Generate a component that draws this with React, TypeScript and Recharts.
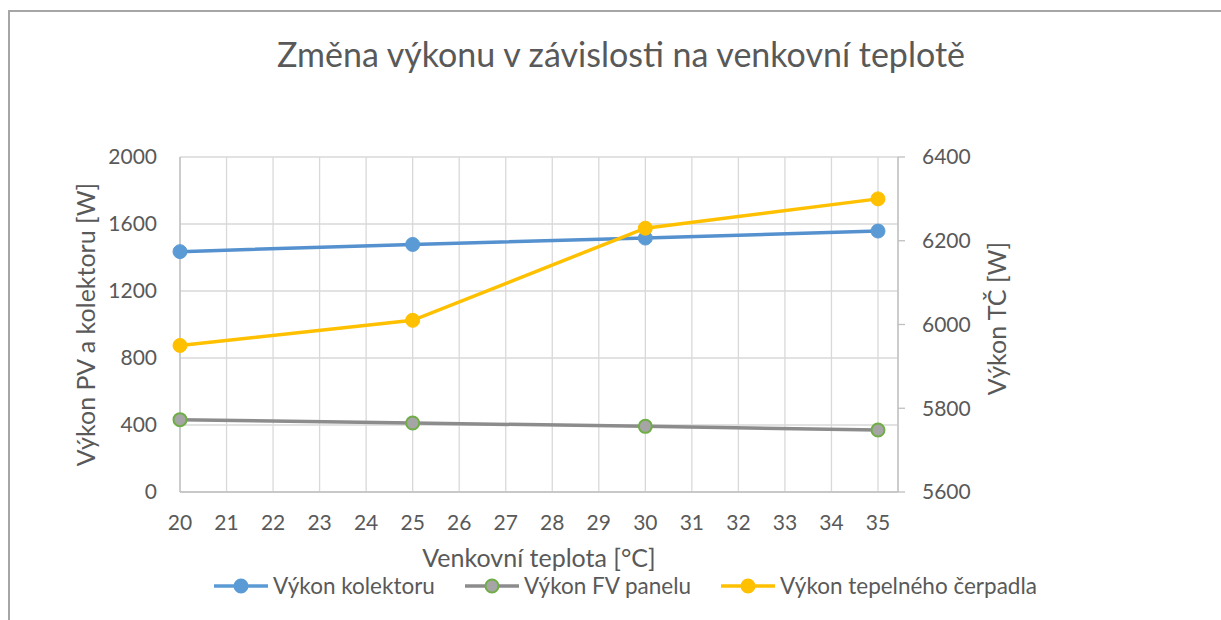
import React from 'react';
import { LineChart, Line, XAxis, YAxis, CartesianGrid, Legend } from 'recharts';

const temps = [20, 25, 30, 35];
const kolektor = [1435, 1478, 1516, 1558];
const fvPanel = [432, 412, 392, 370];
const cerpadlo = [5950, 6010, 6230, 6300];

const xTicks = [20, 21, 22, 23, 24, 25, 26, 27, 28, 29, 30, 31, 32, 33, 34, 35];
const leftTicks = [0, 400, 800, 1200, 1600, 2000];
const rightTicks = [5600, 5800, 6000, 6200, 6400];

const seriesNames = ['Výkon kolektoru', 'Výkon FV panelu', 'Výkon tepelného čerpadla'];

const data = temps.map((t, i) => ({ t, kolektor: kolektor[i], fv: fvPanel[i], tc: cerpadlo[i] }));

const FONT = 'Lato, "Open Sans", sans-serif';
const TXT = '#595959';
const AXIS = '#bfbfbf';

const legendItems = [
  { name: seriesNames[0], line: '#5b9bd5', fill: '#5b9bd5', stroke: '#5b9bd5' },
  { name: seriesNames[1], line: '#8c8c8c', fill: '#a5a5a5', stroke: '#70ad47' },
  { name: seriesNames[2], line: '#ffc000', fill: '#ffc000', stroke: '#ffc000' },
];

function LegendBox() {
  return (
    <div style={{ display: 'flex', justifyContent: 'center', paddingLeft: 22, fontFamily: FONT, fontSize: 22.5, color: TXT }}>
      {legendItems.map((it) => (
        <div key={it.name} style={{ display: 'flex', alignItems: 'center', margin: '0 15px' }}>
          <svg width={54} height={20}>
            <line x1={0} y1={10} x2={54} y2={10} stroke={it.line} strokeWidth={3.5} />
            <circle cx={27} cy={10} r={6.5} fill={it.fill} stroke={it.stroke} strokeWidth={2} />
          </svg>
          <span style={{ marginLeft: 5 }}>{it.name}</span>
        </div>
      ))}
    </div>
  );
}

function LeftTitle(props: any) {
  const vb = props.viewBox || {};
  const x = 77;
  const y = vb.y + vb.height / 2;
  return (
    <text x={x} y={y} transform={`rotate(-90 ${x} ${y})`} textAnchor="middle" dominantBaseline="central"
      fill={TXT} fontSize={25} fontFamily={FONT}>
      Výkon PV a kolektoru [W]
    </text>
  );
}

function RightTitle(props: any) {
  const vb = props.viewBox || {};
  const x = 988;
  const y = vb.y + vb.height / 2 - 6;
  return (
    <text x={x} y={y} transform={`rotate(-90 ${x} ${y})`} textAnchor="middle" dominantBaseline="central"
      fill={TXT} fontSize={25} fontFamily={FONT}>
      Výkon TČ [W]
    </text>
  );
}

function BottomTitle(props: any) {
  const vb = props.viewBox || {};
  return (
    <text x={vb.x + vb.width / 2} y={549} textAnchor="middle" dominantBaseline="central"
      fill={TXT} fontSize={25} fontFamily={FONT}>
      Venkovní teplota [°C]
    </text>
  );
}

export default function App() {
  return (
    <div style={{ position: 'fixed', left: 0, top: 0, width: 1221, height: 620, overflow: 'hidden', background: '#fff' }}>
      <div style={{ position: 'absolute', left: 8, top: 10, width: 1400, height: 800, borderLeft: '2px solid #a6a6a6', borderTop: '2px solid #a6a6a6' }} />
      <div style={{ position: 'absolute', left: 0, top: 33, width: 1242, textAlign: 'center', fontFamily: FONT, fontSize: 34, color: TXT }}>
        Změna výkonu v závislosti na venkovní teplotě
      </div>
      <div style={{ position: 'absolute', left: 8, top: 8 }}>
        <LineChart width={1213} height={612} data={data} margin={{ top: 149, right: 0, bottom: 18, left: 0 }}>
          <CartesianGrid yAxisId="left" stroke="#d9d9d9" strokeWidth={1.3} />
          <XAxis dataKey="t" type="number" domain={[20, 35.43]} ticks={xTicks} interval={0} height={80}
            tickLine={false} tickSize={0} tickMargin={23} axisLine={{ stroke: AXIS, strokeWidth: 1.3 }}
            tick={{ fill: TXT, fontSize: 21, fontFamily: FONT }} label={<BottomTitle />} />
          <YAxis yAxisId="left" domain={[0, 2000]} ticks={leftTicks} width={172} interval={0}
            tickLine={false} tickSize={0} tickMargin={23} axisLine={{ stroke: AXIS, strokeWidth: 1.3 }}
            tick={{ fill: TXT, fontSize: 21, fontFamily: FONT }} label={<LeftTitle />} />
          <YAxis yAxisId="right" orientation="right" domain={[5600, 6400]} ticks={rightTicks} width={323} interval={0}
            tickSize={7} tickMargin={17} tickLine={{ stroke: AXIS, strokeWidth: 1.3 }} axisLine={{ stroke: AXIS, strokeWidth: 1.3 }}
            tick={{ fill: TXT, fontSize: 21, fontFamily: FONT }} label={<RightTitle />} />
          <Legend verticalAlign="bottom" height={30} content={<LegendBox />} />
          <Line yAxisId="left" dataKey="kolektor" name={seriesNames[0]} stroke="#5591cf" strokeWidth={3.5}
            dot={{ r: 7, fill: '#5b9bd5', stroke: '#5b9bd5', strokeWidth: 1 }} activeDot={false} isAnimationActive={false} />
          <Line yAxisId="left" dataKey="fv" name={seriesNames[1]} stroke="#8c8c8c" strokeWidth={3.5}
            dot={{ r: 6.5, fill: '#a5a5a5', stroke: '#70ad47', strokeWidth: 2 }} activeDot={false} isAnimationActive={false} />
          <Line yAxisId="right" dataKey="tc" name={seriesNames[2]} stroke="#ffc000" strokeWidth={3.5}
            dot={{ r: 7, fill: '#ffc000', stroke: '#ffc000', strokeWidth: 1 }} activeDot={false} isAnimationActive={false} />
        </LineChart>
      </div>
    </div>
  );
}
